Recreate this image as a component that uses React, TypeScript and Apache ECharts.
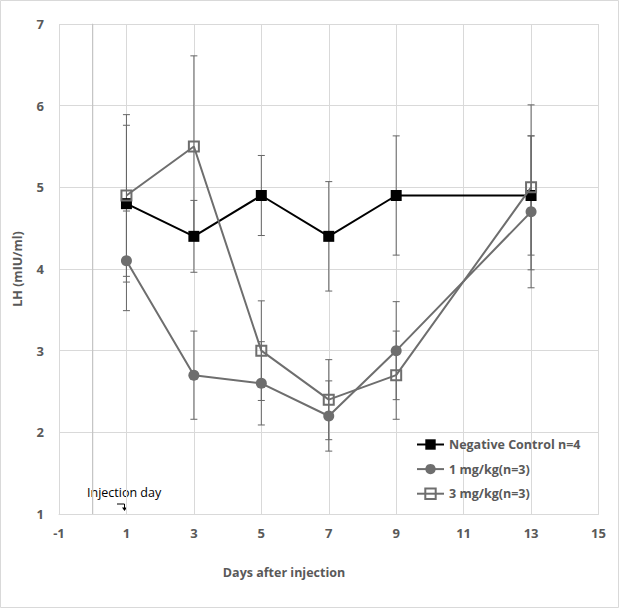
import React, { useEffect, useRef } from "react";
import * as echarts from "echarts";

const days = [1, 3, 5, 7, 9, 13];
const negCtrl = [4.8, 4.4, 4.9, 4.4, 4.9, 4.9];
const negErr = [0.96, 0.44, 0.49, 0.67, 0.73, 0.73];
const dose1 = [4.1, 2.7, 2.6, 2.2, 3.0, 4.7];
const dose1Err = [0.61, 0.54, 0.51, 0.43, 0.6, 0.93];
const dose3 = [4.9, 5.5, 3.0, 2.4, 2.7, 5.0];
const dose3Err = [0.99, 1.11, 0.61, 0.49, 0.54, 1.01];
const seriesNames = ["Negative Control n=4", "1 mg/kg(n=3)", "3 mg/kg(n=3)"];
const injectionDay = 0;

const FONT = "'Open Sans', sans-serif";
const TXT = "#595959";
const GRID = "#d9d9d9";

function pairs(vals: number[]) {
  return days.map((d, i) => [d, vals[i]]);
}
function errData(vals: number[], errs: number[]) {
  return days.map((d, i) => [d, vals[i] - errs[i], vals[i] + errs[i]]);
}

function errSeries(vals: number[], errs: number[]) {
  return {
    type: "custom",
    silent: true,
    z: 1,
    data: errData(vals, errs),
    encode: { x: 0, y: [1, 2] },
    renderItem: (params: any, api: any) => {
      const x = api.value(0);
      const lo = api.value(1);
      const hi = api.value(2);
      const t = api.coord([x, hi]);
      const b = api.coord([x, lo]);
      const w = 3.5;
      const st = { stroke: "#666666", lineWidth: 1 };
      return {
        type: "group",
        children: [
          { type: "line", shape: { x1: t[0], y1: t[1], x2: b[0], y2: b[1] }, style: st },
          { type: "line", shape: { x1: t[0] - w, y1: t[1], x2: t[0] + w, y2: t[1] }, style: st },
          { type: "line", shape: { x1: b[0] - w, y1: b[1], x2: b[0] + w, y2: b[1] }, style: st },
        ],
      };
    },
  };
}

export default function App() {
  const ref = useRef<HTMLDivElement>(null);
  useEffect(() => {
    if (!ref.current) return;
    const chart = echarts.init(ref.current, undefined, { renderer: "svg" });
    chart.setOption({
      animation: false,
      backgroundColor: "#fff",
      textStyle: { fontFamily: FONT },
      grid: { left: 59, top: 24, right: 21.5, bottom: 95, containLabel: false },
      xAxis: {
        type: "value",
        min: -1,
        max: 15,
        interval: 2,
        axisLine: { show: true, lineStyle: { color: GRID, width: 1 } },
        axisTick: { show: false },
        splitLine: { show: true, lineStyle: { color: GRID, width: 1 } },
        axisLabel: { color: TXT, fontWeight: "bold", fontSize: 13, margin: 12, fontFamily: FONT },
      },
      yAxis: {
        type: "value",
        min: 1,
        max: 7,
        interval: 1,
        axisLine: { show: true, lineStyle: { color: GRID, width: 1 } },
        axisTick: { show: false },
        splitLine: { show: true, lineStyle: { color: GRID, width: 1 } },
        axisLabel: { color: TXT, fontWeight: "bold", fontSize: 13, margin: 15, fontFamily: FONT },
      },
      legend: {
        orient: "vertical",
        left: 416,
        top: 438,
        padding: 0,
        itemWidth: 27,
        itemHeight: 13,
        itemGap: 11.6,
        data: seriesNames,
        textStyle: { color: TXT, fontWeight: "bold", fontSize: 12.5, fontFamily: FONT },
      },
      graphic: [
        {
          type: "rect",
          shape: { x: 0.5, y: 0.5, width: 618, height: 607 },
          style: { fill: "none", stroke: GRID, lineWidth: 1 },
          silent: true,
          z: -10,
        },
        {
          type: "text",
          x: 284,
          y: 572,
          style: {
            text: "Days after injection",
            fill: TXT,
            font: `bold 12.5px ${FONT}`,
            textAlign: "center",
            textVerticalAlign: "middle",
          },
        },
        {
          type: "text",
          x: 17,
          y: 269,
          rotation: Math.PI / 2,
          style: {
            text: "LH (mIU/ml)",
            fill: TXT,
            font: `bold 12.5px ${FONT}`,
            textAlign: "center",
            textVerticalAlign: "middle",
          },
        },
        {
          type: "text",
          x: 87,
          y: 492,
          style: {
            text: "Injection day",
            fill: "#000",
            font: `12.5px ${FONT}`,
            textAlign: "left",
            textVerticalAlign: "middle",
          },
        },
        {
          type: "polyline",
          shape: { points: [[117, 504], [124.5, 504], [124.5, 509]] },
          style: { stroke: "#000", lineWidth: 1, fill: "none" },
        },
        {
          type: "polygon",
          shape: { points: [[122, 507.5], [127, 507.5], [124.5, 511]] },
          style: { fill: "#000" },
        },
      ],
      series: [
        {
          name: "injection",
          type: "line",
          silent: true,
          symbol: "none",
          z: 0,
          lineStyle: { color: "#bfbfbf", width: 1 },
          data: [[injectionDay, 1], [injectionDay, 7]],
        },
        errSeries(negCtrl, negErr),
        errSeries(dose1, dose1Err),
        errSeries(dose3, dose3Err),
        {
          name: seriesNames[0],
          type: "line",
          z: 3,
          data: pairs(negCtrl),
          symbol: "rect",
          symbolSize: 11,
          color: "#000",
          lineStyle: { color: "#000", width: 2 },
          itemStyle: { color: "#000" },
        },
        {
          name: seriesNames[1],
          type: "line",
          z: 4,
          data: pairs(dose1),
          symbol: "circle",
          symbolSize: 11,
          color: "#6e6e6e",
          lineStyle: { color: "#6e6e6e", width: 2 },
          itemStyle: { color: "#6e6e6e" },
        },
        {
          name: seriesNames[2],
          type: "line",
          z: 5,
          data: pairs(dose3),
          symbol: "rect",
          symbolSize: 10,
          color: "#6e6e6e",
          lineStyle: { color: "#6e6e6e", width: 2 },
          itemStyle: { color: "rgba(255,255,255,0)", borderColor: "#6e6e6e", borderWidth: 2 },
        },
      ],
    });
    return () => chart.dispose();
  }, []);
  return (
    <div
      ref={ref}
      style={{ position: "fixed", left: 0, top: 0, width: 620, height: 609 }}
    />
  );
}
